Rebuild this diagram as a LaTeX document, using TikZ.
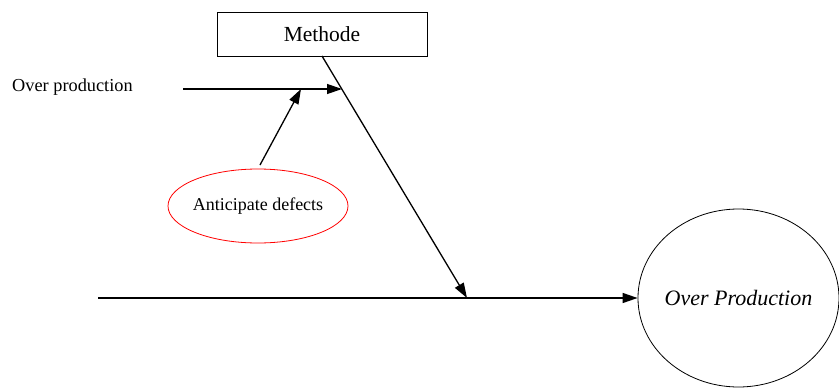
\documentclass[tikz,border=0pt]{standalone}
\usepackage{fontspec}
\setmainfont{Liberation Serif}
\usetikzlibrary{arrows.meta,shapes.geometric}
\begin{document}
\begin{tikzpicture}[x=1pt,y=-1pt,
  conn/.style={line width=1.3pt,-{Triangle[length=15pt,width=10pt]}},
  boxnode/.style={draw,line width=0.8pt,minimum width=210pt,minimum height=44pt,inner sep=0pt,font=\fontsize{21.5}{24}\selectfont},
  redell/.style={draw=red,ellipse,line width=0.8pt,minimum width=180pt,minimum height=74pt,inner xsep=-20pt,inner ysep=0pt,font=\fontsize{18}{21}\selectfont},
  bigell/.style={draw,ellipse,line width=0.8pt,minimum width=201pt,minimum height=178pt,inner xsep=-20pt,inner ysep=0pt,font=\itshape\fontsize{22}{26}\selectfont}]
\useasboundingbox (0,0) rectangle (839,388);
\node[boxnode] (meth) at (322,34) {Methode};
\node[anchor=west,inner sep=0pt,font=\fontsize{18.3}{21}\selectfont] (opl) at (12,87) {Over production};
\node[redell] (ant) at (258,206) {Anticipate defects};
\node[bigell] (op) at (738.5,298) {Over Production};
\coordinate (s1) at (183,89);
\coordinate (t1) at (342,89);
\coordinate (t2) at (301,89);
\coordinate (s3) at (260,165);
\coordinate (s4) at (98,298);
\coordinate (t5) at (467,298);
\coordinate (m) at (322,56);
\draw[conn] (s1) -- (t1);
\draw[conn] (s3) -- (t2);
\draw[conn] (m) -- (t5);
\draw[conn] (s4) -- (op.west);
\end{tikzpicture}
\end{document}
